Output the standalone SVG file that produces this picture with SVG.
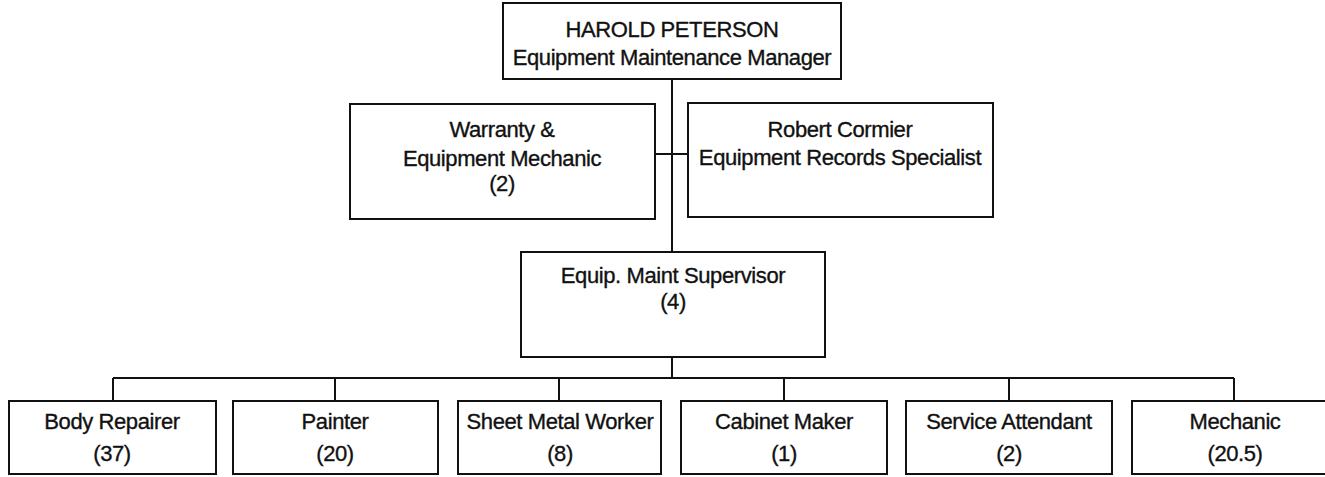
<svg xmlns="http://www.w3.org/2000/svg" width="1325" height="477" viewBox="0 0 1325 477">
<style>
.box{fill:#fff;stroke:#111;stroke-width:2}
.ln{fill:none;stroke:#111;stroke-width:2}
text{font-family:"Liberation Sans",Arial,sans-serif;font-size:22px;letter-spacing:-0.4px;fill:#111;stroke:#111;stroke-width:0.35;text-anchor:middle}
</style>
<rect width="1325" height="477" fill="#fff"/>
<g id="connectors">
<path class="ln" d="M672 79V252"/>
<path class="ln" d="M655 154H688"/>
<path class="ln" d="M672 357V378"/>
<path class="ln" d="M113 378H1234"/>
<path class="ln" d="M113 378V401M335 378V401M559 378V401M784 378V401M1009 378V401M1234 378V401"/>
</g>
<g id="manager">
<rect class="box" x="503" y="3" width="338" height="76"/>
<text x="672" y="37">HAROLD PETERSON</text>
<text x="672" y="65">Equipment Maintenance Manager</text>
</g>
<g id="warranty">
<rect class="box" x="350" y="104" width="305" height="115"/>
<text x="502" y="137">Warranty &amp;</text>
<text x="502" y="166">Equipment Mechanic</text>
<text x="502" y="191">(2)</text>
</g>
<g id="records">
<rect class="box" x="688" y="103" width="305" height="114"/>
<text x="840" y="137">Robert Cormier</text>
<text x="840" y="165">Equipment Records Specialist</text>
</g>
<g id="supervisor">
<rect class="box" x="521" y="252" width="304" height="105"/>
<text x="673" y="283">Equip. Maint Supervisor</text>
<text x="673" y="309">(4)</text>
</g>
<g id="body-repairer">
<rect class="box" x="9" y="401" width="207" height="73"/>
<text x="112" y="429">Body Repairer</text>
<text x="112" y="461">(37)</text>
</g>
<g id="painter">
<rect class="box" x="233" y="401" width="205" height="73"/>
<text x="335" y="429">Painter</text>
<text x="335" y="461">(20)</text>
</g>
<g id="sheet-metal">
<rect class="box" x="458" y="401" width="203" height="73"/>
<text x="560" y="429">Sheet Metal Worker</text>
<text x="560" y="461">(8)</text>
</g>
<g id="cabinet">
<rect class="box" x="681" y="401" width="206" height="73"/>
<text x="784" y="429">Cabinet Maker</text>
<text x="784" y="461">(1)</text>
</g>
<g id="service">
<rect class="box" x="906" y="401" width="206" height="73"/>
<text x="1009" y="429">Service Attendant</text>
<text x="1009" y="461">(2)</text>
</g>
<g id="mechanic">
<rect class="box" x="1132" y="401" width="206" height="73"/>
<text x="1235" y="429">Mechanic</text>
<text x="1235" y="461">(20.5)</text>
</g>
</svg>
